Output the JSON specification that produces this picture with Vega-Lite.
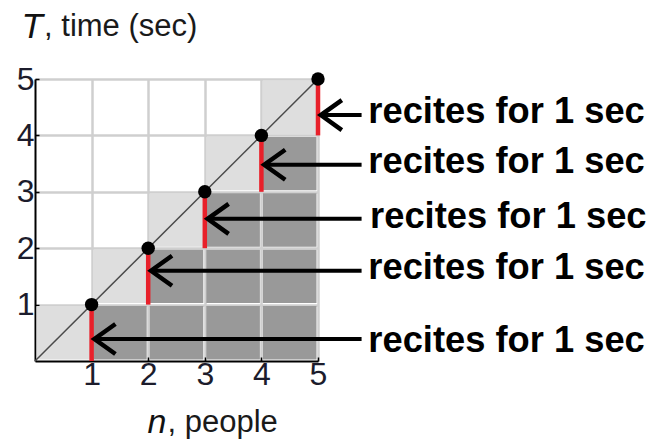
{
  "$schema": "https://vega.github.io/schema/vega-lite/v6.json",
  "width": 283,
  "height": 282,
  "autosize": {"type": "none"},
  "padding": {"left": 35, "top": 79, "right": 337, "bottom": 82},
  "background": "white",
  "config": {"view": {"stroke": null}},
  "datasets": {
    "cells": [
      {"x0": 0, "x1": 1, "y0": 0, "y1": 1, "kind": "diagonal"},
      {"x0": 1, "x1": 2, "y0": 1, "y1": 2, "kind": "diagonal"},
      {"x0": 2, "x1": 3, "y0": 2, "y1": 3, "kind": "diagonal"},
      {"x0": 3, "x1": 4, "y0": 3, "y1": 4, "kind": "diagonal"},
      {"x0": 4, "x1": 5, "y0": 4, "y1": 5, "kind": "diagonal"},
      {"x0": 1, "x1": 2, "y0": 0, "y1": 1, "kind": "below"},
      {"x0": 2, "x1": 3, "y0": 0, "y1": 1, "kind": "below"},
      {"x0": 3, "x1": 4, "y0": 0, "y1": 1, "kind": "below"},
      {"x0": 4, "x1": 5, "y0": 0, "y1": 1, "kind": "below"},
      {"x0": 2, "x1": 3, "y0": 1, "y1": 2, "kind": "below"},
      {"x0": 3, "x1": 4, "y0": 1, "y1": 2, "kind": "below"},
      {"x0": 4, "x1": 5, "y0": 1, "y1": 2, "kind": "below"},
      {"x0": 3, "x1": 4, "y0": 2, "y1": 3, "kind": "below"},
      {"x0": 4, "x1": 5, "y0": 2, "y1": 3, "kind": "below"},
      {"x0": 4, "x1": 5, "y0": 3, "y1": 4, "kind": "below"}
    ],
    "diag": [{"n": 0, "T": 0}, {"n": 5, "T": 5}],
    "steps": [
      {"n": 1, "T": 1, "T0": 0, "tip": 1.05, "end": 5.77, "arrowY": 0.39, "labelX": 5.89, "labelY": 0.16, "label": "recites for 1 sec"},
      {"n": 2, "T": 2, "T0": 1, "tip": 2.05, "end": 5.77, "arrowY": 1.6, "labelX": 5.89, "labelY": 1.45, "label": "recites for 1 sec"},
      {"n": 3, "T": 3, "T0": 2, "tip": 3.05, "end": 5.77, "arrowY": 2.52, "labelX": 5.92, "labelY": 2.36, "label": "recites for 1 sec"},
      {"n": 4, "T": 4, "T0": 3, "tip": 4.05, "end": 5.77, "arrowY": 3.48, "labelX": 5.89, "labelY": 3.33, "label": "recites for 1 sec"},
      {"n": 5, "T": 5, "T0": 4, "tip": 5.05, "end": 5.77, "arrowY": 4.36, "labelX": 5.89, "labelY": 4.22, "label": "recites for 1 sec"}
    ],
    "titles": [
      {"text": ", time (sec)", "x": 0.16, "y": 5.76},
      {"text": ", people", "x": 2.34, "y": -1.26}
    ]
  },
  "layer": [
    {
      "data": {"name": "cells"},
      "mark": {"type": "rect", "xOffset": 1.5, "x2Offset": -1.5, "yOffset": -1.5, "y2Offset": 1.5},
      "encoding": {
        "x": {
          "field": "x0", "type": "quantitative",
          "scale": {"domain": [0, 5], "nice": false, "zero": false},
          "axis": {
            "values": [1, 2, 3, 4, 5],
            "format": "d",
            "labelOverlap": false,
            "labelFlush": false,
            "title": "n",
            "titleFont": "Liberation Sans", "titleFontSize": 34, "titleFontStyle": "italic", "titleFontWeight": "normal",
            "titleColor": "#111",
            "titleAlign": "left", "titleBaseline": "alphabetic", "titleAnchor": "start",
            "titleX": 112, "titleY": 71,
            "labelFont": "Liberation Sans", "labelFontSize": 32, "labelColor": "#1c1c2c",
            "labelPadding": 2,
            "domainColor": "black", "domainWidth": 2,
            "tickColor": "black", "tickSize": -4, "tickWidth": 1.5,
            "grid": true, "gridColor": "#cfcfcf", "gridWidth": 2.5
          }
        },
        "x2": {"field": "x1"},
        "y": {
          "field": "y0", "type": "quantitative",
          "scale": {"domain": [0, 5], "nice": false, "zero": false},
          "axis": {
            "values": [1, 2, 3, 4, 5],
            "format": "d",
            "labelOverlap": false,
            "labelFlush": false,
            "title": "T",
            "titleFont": "Liberation Sans", "titleFontSize": 35, "titleFontStyle": "italic", "titleFontWeight": "normal",
            "titleColor": "#111",
            "titleAngle": 0, "titleAlign": "left", "titleBaseline": "alphabetic", "titleAnchor": "start",
            "titleX": -14, "titleY": -42,
            "labelFont": "Liberation Sans", "labelFontSize": 32, "labelColor": "#1c1c2c",
            "labelPadding": 5,
            "domainColor": "black", "domainWidth": 2,
            "tickColor": "black", "tickSize": -4, "tickWidth": 1.5,
            "grid": true, "gridColor": "#cfcfcf", "gridWidth": 2.5
          }
        },
        "y2": {"field": "y1"},
        "color": {
          "field": "kind", "type": "nominal",
          "scale": {"domain": ["diagonal", "below"], "range": ["#dedede", "#999999"]},
          "legend": null
        }
      }
    },
    {
      "data": {"name": "diag"},
      "mark": {"type": "line", "color": "#4a4a4a", "strokeWidth": 1.5},
      "encoding": {
        "x": {"field": "n", "type": "quantitative"},
        "y": {"field": "T", "type": "quantitative"}
      }
    },
    {
      "data": {"name": "steps"},
      "layer": [
        {
          "mark": {"type": "rule", "color": "#e8202a", "strokeWidth": 4.5},
          "encoding": {
            "x": {"field": "n", "type": "quantitative"},
            "y": {"field": "T0", "type": "quantitative"},
            "y2": {"field": "T"}
          }
        },
        {
          "mark": {"type": "point", "filled": true, "color": "black", "size": 180, "opacity": 1},
          "encoding": {
            "x": {"field": "n", "type": "quantitative"},
            "y": {"field": "T", "type": "quantitative"}
          }
        },
        {
          "mark": {"type": "rule", "color": "black", "strokeWidth": 4},
          "encoding": {
            "x": {"field": "tip", "type": "quantitative"},
            "x2": {"field": "end"},
            "y": {"field": "arrowY", "type": "quantitative"}
          }
        },
        {
          "mark": {"type": "point", "shape": "M1.4,-1L0,0L1.4,1", "size": 900, "filled": false, "stroke": "black", "strokeWidth": 4.5, "opacity": 1},
          "encoding": {
            "x": {"field": "tip", "type": "quantitative"},
            "y": {"field": "arrowY", "type": "quantitative"}
          }
        },
        {
          "mark": {"type": "text", "font": "Liberation Sans", "fontWeight": "bold", "fontSize": 36.3, "align": "left", "baseline": "alphabetic", "color": "black"},
          "encoding": {
            "x": {"field": "labelX", "type": "quantitative"},
            "y": {"field": "labelY", "type": "quantitative"},
            "text": {"field": "label"}
          }
        }
      ]
    },
    {
      "data": {"name": "titles"},
      "mark": {"type": "text", "font": "Liberation Sans", "fontSize": 31, "align": "left", "baseline": "alphabetic", "color": "#1a1a1a"},
      "encoding": {
        "x": {"field": "x", "type": "quantitative"},
        "y": {"field": "y", "type": "quantitative"},
        "text": {"field": "text"}
      }
    }
  ]
}
